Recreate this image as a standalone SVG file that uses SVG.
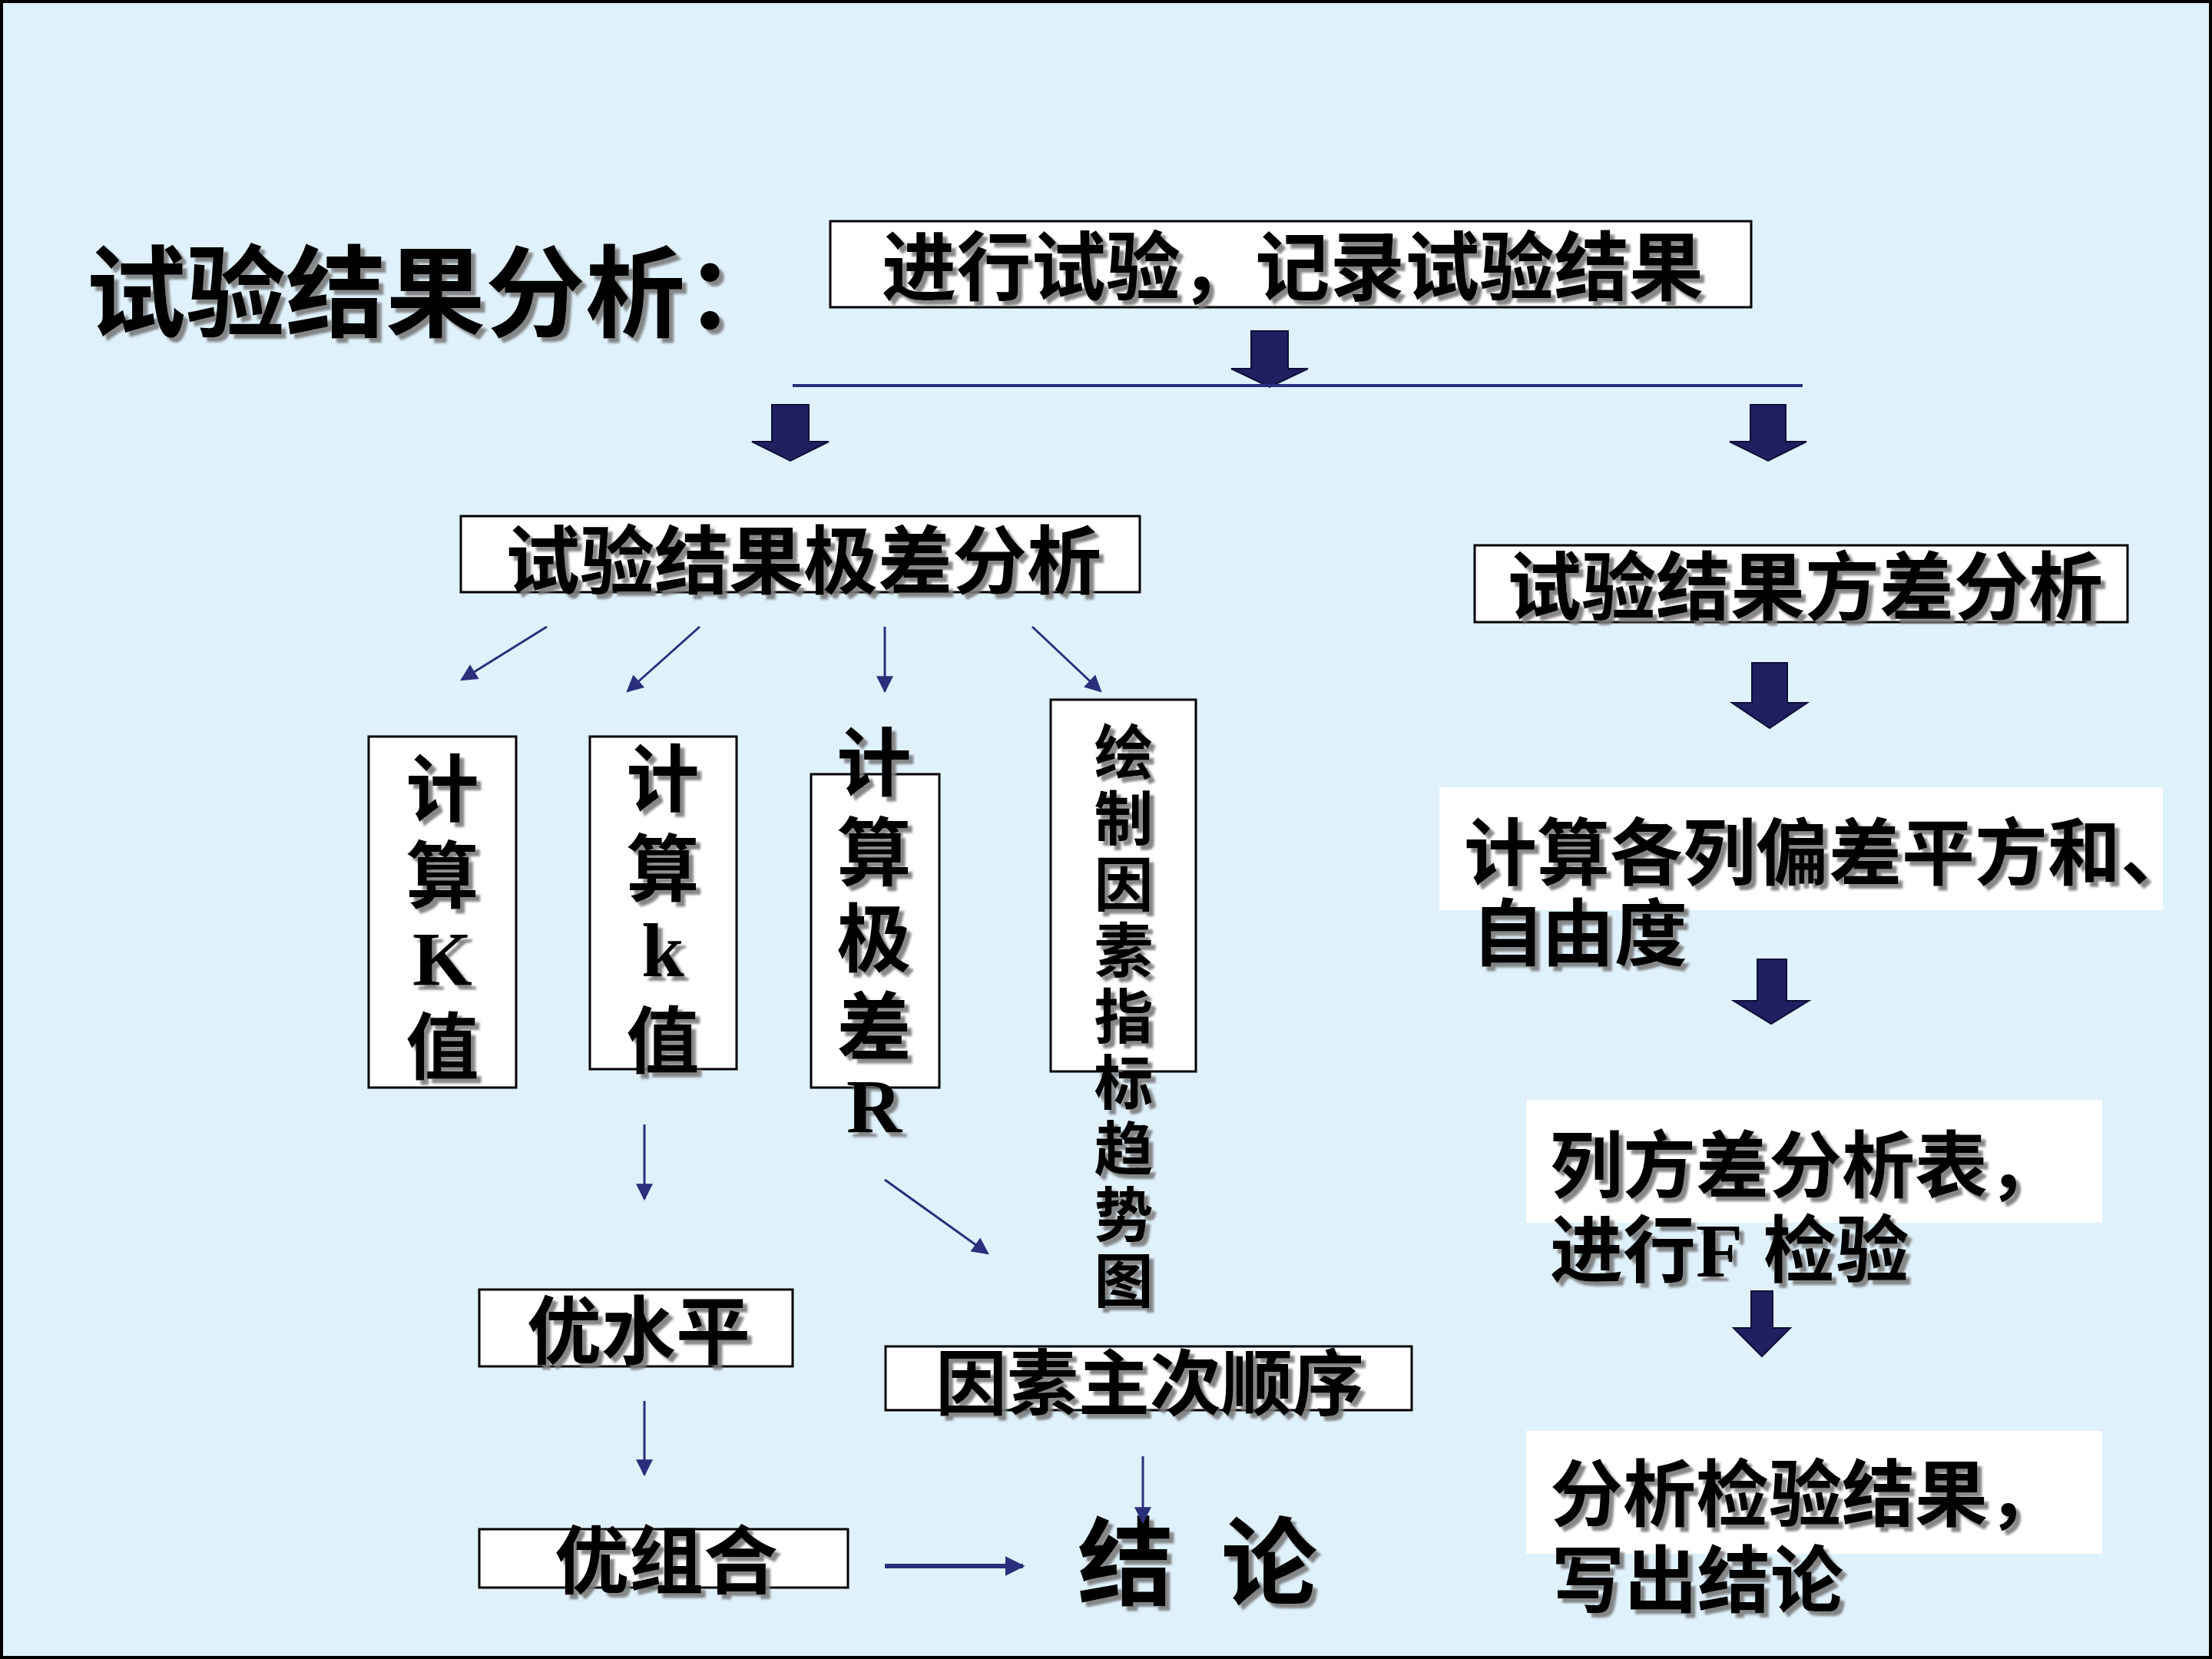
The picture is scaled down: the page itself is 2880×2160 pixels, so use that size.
<svg xmlns="http://www.w3.org/2000/svg" width="2880" height="2160" viewBox="0 0 2880 2160">
<defs>
<style>
.bg{fill:#DFF1FB;stroke:#000;stroke-width:4}
.box{fill:#fff;stroke:#000;stroke-width:3}
.wbox{fill:#fff;stroke:none}
.t{font-family:"Liberation Sans","Noto Sans CJK SC","Noto Sans CJK TC",sans-serif;font-weight:700;fill:#000;filter:url(#sh)}
.lat{font-family:"Liberation Serif","Times New Roman",serif;font-weight:700;fill:#000}
.mid{text-anchor:middle}
.blk{fill:#1F2060;stroke:#0E0E3A;stroke-width:2}
.ln{stroke:#2A2F7C;stroke-width:3;fill:none}
.ln2{stroke:#2A2F7C;stroke-width:6;fill:none}
</style>
<filter id="sh" x="-10%" y="-10%" width="130%" height="130%">
<feDropShadow dx="6" dy="6" stdDeviation="1.5" flood-color="#7a7a7a" flood-opacity="0.9"/>
</filter>
<marker id="ah" viewBox="0 0 10 10" refX="9" refY="5" markerUnits="userSpaceOnUse" markerWidth="26" markerHeight="22" orient="auto">
<path d="M0,0 L10,5 L0,10 Z" fill="#2A2F7C"/>
</marker>
<marker id="ah2" viewBox="0 0 10 10" refX="9" refY="5" markerUnits="userSpaceOnUse" markerWidth="26" markerHeight="26" orient="auto">
<path d="M0,0 L10,5 L0,10 Z" fill="#2A2F7C"/>
</marker>
</defs>
<rect class="bg" x="2" y="2" width="2876" height="2156"/>

<g id="title">
<text class="t" x="112" y="428" font-size="130">试验结果分析：</text>
</g>

<g id="n-start">
<rect class="box" x="1081" y="288" width="1199" height="112"/>
<text class="t" x="1148" y="383" font-size="98" textLength="1070" lengthAdjust="spacingAndGlyphs">进行试验，记录试验结果</text>
</g>

<g id="n-range">
<rect class="box" x="600" y="672" width="884" height="99"/>
<text class="t" x="658" y="765" font-size="97">试验结果极差分析</text>
</g>

<g id="n-variance">
<rect class="box" x="1920" y="710" width="850" height="100"/>
<text class="t" x="1962" y="799" font-size="97">试验结果方差分析</text>
</g>

<g id="n-K">
<rect class="box" x="480" y="959" width="192" height="457"/>
<text class="t mid" font-size="95"><tspan x="576" y="1062">计</tspan><tspan x="576" y="1175">算</tspan><tspan class="lat" x="576" y="1282" font-size="100">K</tspan><tspan x="576" y="1398">值</tspan></text>
</g>

<g id="n-k">
<rect class="box" x="768" y="959" width="191" height="433"/>
<text class="t mid" font-size="95"><tspan x="863" y="1049">计</tspan><tspan x="863" y="1166">算</tspan><tspan class="lat" x="863" y="1271" font-size="100">k</tspan><tspan x="863" y="1390">值</tspan></text>
</g>

<g id="n-R">
<rect class="box" x="1056" y="1008" width="167" height="408"/>
<text class="t mid" font-size="97"><tspan x="1138" y="1028">计</tspan><tspan x="1138" y="1145">算</tspan><tspan x="1138" y="1257">极</tspan><tspan x="1138" y="1372">差</tspan><tspan class="lat" x="1138" y="1474" font-size="100">R</tspan></text>
</g>

<g id="n-trend">
<rect class="box" x="1368" y="911" width="189" height="484"/>
<text class="t mid" font-size="77"><tspan x="1463" y="1008">绘</tspan><tspan x="1463" y="1094">制</tspan><tspan x="1463" y="1180">因</tspan><tspan x="1463" y="1266">素</tspan><tspan x="1463" y="1352">指</tspan><tspan x="1463" y="1438">标</tspan><tspan x="1463" y="1524">趋</tspan><tspan x="1463" y="1610">势</tspan><tspan x="1463" y="1696">图</tspan></text>
</g>

<g id="n-optlevel">
<rect class="box" x="624" y="1679" width="408" height="100"/>
<text class="t" x="686" y="1768" font-size="97">优水平</text>
</g>

<g id="n-order">
<rect class="box" x="1153" y="1753" width="685" height="83"/>
<text class="t" x="1218" y="1835" font-size="93">因素主次顺序</text>
</g>

<g id="n-optcomb">
<rect class="box" x="624" y="1991" width="480" height="76"/>
<text class="t" x="722" y="2067" font-size="97">优组合</text>
</g>

<g id="n-conclusion">
<text class="t" font-size="125"><tspan x="1403" y="2080">结</tspan><tspan x="1590" y="2080">论</tspan></text>
</g>

<g id="n-ss">
<rect class="wbox" x="1874" y="1025" width="942" height="160"/>
<text class="t" font-size="95"><tspan x="1906" y="1145">计算各列偏差平方和、</tspan><tspan x="1916" y="1250">自</tspan><tspan x="2007" y="1250">由度</tspan></text>
</g>

<g id="n-table">
<rect class="wbox" x="1987" y="1432" width="750" height="160"/>
<text class="t" font-size="95"><tspan x="2018" y="1552">列方差分析表，</tspan><tspan x="2018" y="1662">进行</tspan><tspan class="lat" font-size="100">F</tspan><tspan> 检验</tspan></text>
</g>

<g id="n-result">
<rect class="wbox" x="1987" y="1863" width="750" height="160"/>
<text class="t" font-size="95"><tspan x="2018" y="1980">分析检验结果，</tspan><tspan x="2020" y="2092">写出结论</tspan></text>
</g>

<g id="connectors">
<path class="blk" d="M1629,431 H1677 V480 H1703 L1653,504 L1603,480 H1629 Z"/>
<line x1="1032" y1="502" x2="2347" y2="502" stroke="#2A2F7C" stroke-width="4"/>
<path class="blk" d="M1005,527 H1053 V575 H1079 L1029,600 L979,575 H1005 Z"/>
<path class="blk" d="M2279,527 H2325 V575 H2352 L2302,600 L2252,575 H2279 Z"/>
<path class="blk" d="M2281,863 H2327 V915 H2353 L2304,948 L2255,915 H2281 Z"/>
<path class="blk" d="M2288,1249 H2326 V1303 H2355 L2306,1333 L2257,1303 H2288 Z"/>
<path class="blk" d="M2280,1681 H2308 V1729 H2331 L2294,1766 L2257,1729 H2280 Z"/>

<line class="ln" x1="712" y1="816" x2="601" y2="885" marker-end="url(#ah)"/>
<line class="ln" x1="911" y1="816" x2="817" y2="900" marker-end="url(#ah)"/>
<line class="ln" x1="1152" y1="816" x2="1152" y2="900" marker-end="url(#ah)"/>
<line class="ln" x1="1344" y1="816" x2="1433" y2="900" marker-end="url(#ah)"/>
<line class="ln" x1="839" y1="1464" x2="839" y2="1561" marker-end="url(#ah)"/>
<line class="ln" x1="1152" y1="1536" x2="1286" y2="1632" marker-end="url(#ah)"/>
<line class="ln" x1="839" y1="1824" x2="839" y2="1920" marker-end="url(#ah)"/>
<line class="ln" x1="1488" y1="1896" x2="1488" y2="1982" marker-end="url(#ah)"/>
<line class="ln2" x1="1152" y1="2039" x2="1332" y2="2039" marker-end="url(#ah2)"/>
</g>
</svg>
